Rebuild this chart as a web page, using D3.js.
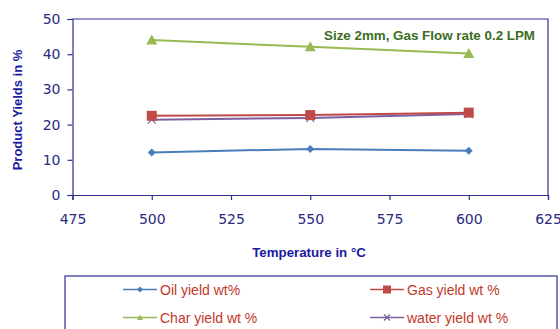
<!DOCTYPE html>
<html><head><meta charset="utf-8">
<script src="https://cdn.jsdelivr.net/npm/d3@7"></script>
<style>body{margin:0;background:#fff}svg{display:block}</style>
</head><body><svg id="c" width="560" height="329"></svg>
<script>
const temps = [500, 550, 600];
const oilYield = [12.1, 13.1, 12.6];
const gasYield = [22.5, 22.7, 23.4];
const charYield = [44.0, 42.1, 40.2];
const waterYield = [21.4, 21.9, 23.0];
const xTicks = [475, 500, 525, 550, 575, 600, 625];
const yTicks = [0, 10, 20, 30, 40, 50];
const seriesNames = ["Oil yield wt%", "Gas yield wt %", "Char yield  wt %", "water yield wt %"];
const seriesColors = ["#4a7ebb", "#be4b48", "#98b954", "#7d60a0"];
const seriesSymbols = ["diamond", "square", "triangle", "cross"];
const seriesValues = [oilYield, gasYield, charYield, waterYield];

const svg = d3.select("#c");
const axisColor = "#2e2e8f";
const font = "Liberation Sans, Arial, sans-serif";
const tickFont = "DejaVu Sans, Verdana, sans-serif";
const L = 72.5, R = 548, T = 19, B = 195;
const x = d3.scaleLinear().domain([475, 625]).range([L, R]);
const y = d3.scaleLinear().domain([0, 50]).range([B, T]);

// frame top/right
svg.append("path").attr("d", `M${L},${T}H${R}V${B}`).attr("fill", "none").attr("stroke", axisColor).attr("stroke-width", 1.2);

const gx = svg.append("g").attr("transform", `translate(0,${B})`)
  .call(d3.axisBottom(x).tickValues(xTicks).tickSize(5).tickPadding(14).tickFormat(d3.format("d")));
const gy = svg.append("g").attr("transform", `translate(${L},0)`)
  .call(d3.axisLeft(y).tickValues(yTicks).tickSize(5).tickPadding(7).tickFormat(d3.format("d")));
[gx, gy].forEach(g => {
  g.selectAll("path,line").attr("stroke", axisColor).attr("stroke-width", 1.2);
  g.selectAll("text").attr("fill", "#2a2a80").attr("font-family", tickFont).attr("font-size", 14);
});

const line = d3.line().x((d, i) => x(temps[i])).y(d => y(d));

function drawSymbol(g, type, cx, cy, color, s) {
  if (type === "diamond") {
    g.append("path").attr("d", `M${cx},${cy - s}L${cx + s},${cy}L${cx},${cy + s}L${cx - s},${cy}Z`).attr("fill", color);
  } else if (type === "square") {
    g.append("rect").attr("x", cx - s).attr("y", cy - s).attr("width", 2 * s).attr("height", 2 * s).attr("fill", color);
  } else if (type === "triangle") {
    g.append("path").attr("d", `M${cx},${cy - s}L${cx + s},${cy + s * 0.8}L${cx - s},${cy + s * 0.8}Z`).attr("fill", color);
  } else {
    g.append("path").attr("d", `M${cx - s},${cy - s}L${cx + s},${cy + s}M${cx - s},${cy + s}L${cx + s},${cy - s}`).attr("stroke", color).attr("stroke-width", 1.2);
  }
}

const order = [3, 1, 0, 2];
order.forEach(k => {
  const g = svg.append("g");
  g.append("path").datum(seriesValues[k]).attr("d", line).attr("fill", "none")
    .attr("stroke", seriesColors[k]).attr("stroke-width", 2);
  const sz = [4, 5, 5.5, 4][k];
  seriesValues[k].forEach((v, i) => drawSymbol(g, seriesSymbols[k], x(temps[i]), y(v), seriesColors[k], sz));
});

svg.append("text").attr("x", 429.5).attr("y", 39.5).attr("text-anchor", "middle")
  .attr("font-family", font).attr("font-weight", "bold").attr("font-size", 13.5).attr("fill", "#3a6e1e")
  .attr("textLength", 211).attr("lengthAdjust", "spacingAndGlyphs")
  .text("Size 2mm, Gas Flow rate 0.2 LPM");

svg.append("text").attr("x", 309).attr("y", 257).attr("text-anchor", "middle")
  .attr("font-family", font).attr("font-weight", "bold").attr("font-size", 13.3).attr("fill", "#1a1aa0")
  .text("Temperature in °C");
svg.append("text").attr("transform", "translate(21.5,110) rotate(-90)").attr("text-anchor", "middle")
  .attr("font-family", font).attr("font-weight", "bold").attr("font-size", 13).attr("fill", "#1a1aa0")
  .text("Product Yields in %");

// legend
svg.append("rect").attr("x", 65).attr("y", 276).attr("width", 492).attr("height", 60)
  .attr("fill", "none").attr("stroke", axisColor).attr("stroke-width", 1.2);
const legPos = [[123, 289.5], [370, 289.5], [123, 317.5], [370, 317.5]];
seriesNames.forEach((n, k) => {
  const [lx, ly] = legPos[k];
  const g = svg.append("g");
  g.append("line").attr("x1", lx).attr("x2", lx + 34).attr("y1", ly).attr("y2", ly)
    .attr("stroke", seriesColors[k]).attr("stroke-width", 1.5);
  drawSymbol(g, seriesSymbols[k], lx + 17, ly, seriesColors[k], k === 1 ? 4 : 3);
  g.append("text").attr("x", lx + 37).attr("y", ly + 5).attr("font-family", font).attr("font-size", 14)
    .attr("fill", "#c0392b").text(n);
});
</script></body></html>
